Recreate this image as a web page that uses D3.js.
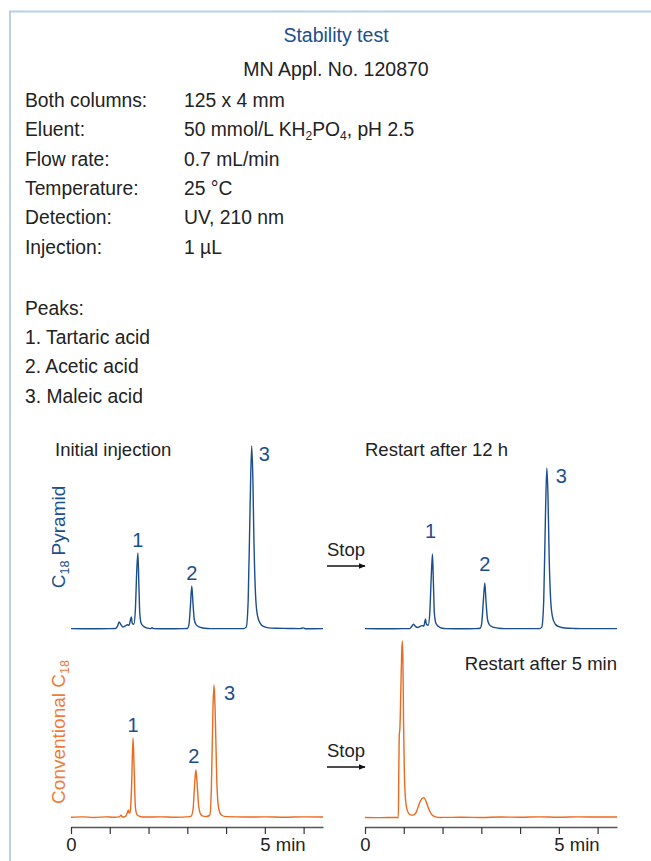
<!DOCTYPE html>
<html lang="en">
<head>
<meta charset="UTF-8">
<title>Stability test</title>
<script src="https://d3js.org/d3.v7.min.js"></script>
<style>
  body { margin: 0; background: #fff; }
  text { font-family: "Liberation Sans", Arial, Helvetica, sans-serif; }
</style>
</head>
<body>
<script>
// ---- data ----
var conditionLabels = ["Both columns:", "Eluent:", "Flow rate:", "Temperature:", "Detection:", "Injection:"];
var conditionValues = ["125 x 4 mm", "50 mmol/L KH_2PO_4, pH 2.5", "0.7 mL/min", "25 °C", "UV, 210 nm", "1 µL"];
var peakNames = ["1. Tartaric acid", "2. Acetic acid", "3. Maleic acid"];

// chromatograms: [time (min), signal]
var pyrInit = [[0,0.2],[0.5,0.1],[1.0,0.2],[1.15,0.3],[1.2,1.5],[1.24,3.7],[1.29,2.2],[1.34,1.0],[1.4,1.6],[1.45,2.2],
  [1.5,2.0],[1.53,4.5],[1.555,6.3],[1.58,3.0],[1.62,2.5],[1.66,10],[1.695,30],[1.725,40],[1.75,24],[1.775,8],[1.81,3],
  [1.87,1.5],[1.95,0.6],[2.05,0.2],[2.09,0.7],[2.13,0.2],[2.5,0.1],[2.85,0.2],[3.0,0.3],[3.04,2],[3.08,12],[3.115,22.6],
  [3.145,14],[3.18,5],[3.23,2.2],[3.32,1],[3.45,0.4],[3.6,0.2],[4.0,0.2],[4.45,0.2],[4.52,1],[4.57,15],[4.62,65],
  [4.66,96.3],[4.69,80],[4.72,45],[4.76,18],[4.81,7],[4.88,3],[4.98,1.2],[5.1,0.6],[5.3,0.4],[5.6,0.3],[5.9,0.2],
  [6.0,0.6],[6.05,0.1],[6.5,0.2]];
var pyrRestart = [[0,0.2],[0.5,0.1],[1.0,0.2],[1.15,0.2],[1.2,1.2],[1.25,2.5],[1.3,1.4],[1.36,0.8],[1.42,1.4],[1.47,1.8],
  [1.52,1.6],[1.54,3.5],[1.56,5.3],[1.585,2.5],[1.63,2.0],[1.67,8],[1.71,28],[1.74,39.5],[1.765,24],[1.79,8],[1.83,3],
  [1.89,1.4],[1.97,0.5],[2.1,0.2],[2.5,0.1],[2.85,0.2],[2.97,0.4],[3.01,3],[3.05,14],[3.09,24.2],[3.12,15],[3.16,5],
  [3.21,2.2],[3.3,1],[3.45,0.4],[3.6,0.2],[4.0,0.2],[4.5,0.2],[4.56,1],[4.61,15],[4.655,60],[4.69,84.7],[4.72,70],
  [4.75,38],[4.79,15],[4.84,6],[4.91,2.5],[5.0,1.2],[5.15,0.5],[5.4,0.3],[5.8,0.2],[6.5,0.2]];
var convInit = [[0,0.4],[0.3,0.6],[0.6,0.3],[0.9,0.6],[1.1,0.4],[1.25,0.6],[1.29,1.5],[1.33,0.5],[1.4,0.8],[1.45,2.5],
  [1.48,4.2],[1.5,2.5],[1.53,3.5],[1.56,15],[1.6,42.1],[1.63,25],[1.66,6],[1.7,1.8],[1.78,0.8],[1.9,0.5],[2.3,0.6],
  [2.7,0.4],[3.0,0.6],[3.1,1],[3.15,5],[3.19,18],[3.22,25.3],[3.25,19],[3.29,7],[3.34,2.2],[3.4,1],[3.5,0.8],
  [3.58,1.5],[3.62,15],[3.665,60],[3.69,70],[3.72,55],[3.76,20],[3.81,5],[3.88,1.6],[4.0,0.7],[4.5,0.5],[5.0,0.6],
  [5.5,0.4],[6.0,0.6],[6.5,0.5]];
var convRestart = [[0,0.3],[0.4,0.2],[0.8,0.3],[0.86,0.3],[0.872,25],[0.885,44],[0.9,47],[0.925,68],[0.948,88],
  [0.965,93.2],[0.98,80],[0.995,50],[1.015,24],[1.045,10],[1.09,4],[1.16,1.8],[1.24,1.5],[1.32,3],[1.4,7.5],[1.47,10.3],
  [1.52,10.7],[1.58,8.5],[1.65,4.5],[1.73,1.6],[1.82,0.6],[1.95,0.3],[2.5,0.4],[3.0,0.3],[3.5,0.5],[4.0,0.4],
  [4.5,0.6],[5.0,0.4],[5.5,0.6],[6.0,0.5],[6.5,0.5]];

// retention times of labelled peaks
var pyrInitPeaks = [1.725, 3.115, 4.66];
var pyrRestartPeaks = [1.74, 3.09, 4.69];
var convInitPeaks = [1.6, 3.22, 3.69];

var xTicks = [0, 1, 2, 3, 4, 5, 6];

// ---- styles ----
var blue = "#1b4e8e", orange = "#ea6a1f", orangeText = "#f07a36", ink = "#222";

var svg = d3.select("body").append("svg")
  .attr("width", 651).attr("height", 861);

// frame
svg.append("path")
  .attr("d", "M10,861 V11.5 H651")
  .attr("fill", "none").attr("stroke", "#bccfe8").attr("stroke-width", 2);

svg.append("text").attr("x", 336).attr("y", 42).attr("text-anchor", "middle")
  .attr("font-size", 19.5).attr("fill", blue).text("Stability test");
svg.append("text").attr("x", 336).attr("y", 76).attr("text-anchor", "middle")
  .attr("font-size", 19.5).attr("fill", ink).text("MN Appl. No. 120870");

// conditions
var rowY = d3.scaleLinear().domain([0, 1]).range([107, 136.3]);
svg.selectAll(".clabel").data(conditionLabels).enter().append("text")
  .attr("class", "clabel").attr("x", 25).attr("y", (d, i) => rowY(i))
  .attr("font-size", 19.3).attr("fill", ink).text(d => d);

svg.selectAll(".cvalue").data(conditionValues).enter().append("text")
  .attr("class", "cvalue").attr("x", 184).attr("y", (d, i) => rowY(i))
  .attr("font-size", 19.3).attr("fill", ink)
  .each(function(d) {
    var t = d3.select(this), shift = 0;
    // "_n" marks a subscript digit
    d.split(/(_\d)/).forEach(function(part) {
      if (!part) return;
      if (part[0] === "_") {
        t.append("tspan").attr("font-size", 12).attr("dy", 4 - shift).text(part[1]);
        shift = 4;
      } else {
        t.append("tspan").attr("dy", -shift).text(part);
        shift = 0;
      }
    });
  });

svg.append("text").attr("x", 25).attr("y", 315).attr("font-size", 19.3).attr("fill", ink).text("Peaks:");
svg.selectAll(".pname").data(peakNames).enter().append("text")
  .attr("class", "pname").attr("x", 25).attr("y", (d, i) => 344 + i * 29.3)
  .attr("font-size", 19.3).attr("fill", ink).text(d => d);

// ---- chromatogram panels ----
var panels = [
  { trace: pyrInit, peaks: pyrInitPeaks, left: 71, base: 629, color: blue,
    offs: [[0, -6], [0, -6], [12, 15]] },
  { trace: pyrRestart, peaks: pyrRestartPeaks, left: 365, base: 629, color: blue,
    offs: [[-2, -16], [0, -12], [14, 15]] },
  { trace: convInit, peaks: convInitPeaks, left: 71, base: 818, color: orange, axis: true,
    offs: [[0, -6], [-2, -7], [15, 15]] },
  { trace: convRestart, peaks: [], left: 365, base: 818, color: orange, axis: true, offs: [] }
];

panels.forEach(function(p) {
  var x = d3.scaleLinear().domain([0, 6.5]).range([p.left, p.left + 252]);
  var y = d3.scaleLinear().domain([0, 100]).range([p.base, p.base - 190]);
  var line = d3.line().x(d => x(d[0])).y(d => y(d[1])).curve(d3.curveMonotoneX);

  svg.append("path").datum(p.trace)
    .attr("d", line).attr("fill", "none")
    .attr("stroke", p.color).attr("stroke-width", 1.4).attr("stroke-linejoin", "round");

  p.peaks.forEach(function(t, i) {
    var apex = d3.max(p.trace.filter(d => Math.abs(d[0] - t) < 0.02), d => d[1]);
    svg.append("text")
      .attr("x", x(t) + p.offs[i][0]).attr("y", y(apex) + p.offs[i][1])
      .attr("text-anchor", i === 2 ? "start" : "middle")
      .attr("dx", i === 2 ? -5 : 0)
      .attr("font-size", 20).attr("fill", blue).text(i + 1);
  });

  if (p.axis) {
    var ax = svg.append("g").attr("transform", "translate(0," + (p.base + 9) + ")")
      .call(d3.axisBottom(x).tickValues(xTicks).tickSize(7).tickSizeOuter(0).tickPadding(4)
        .tickFormat(d => d === 0 ? "0" : d === 5 ? "5 min" : ""));
    ax.select(".domain").attr("stroke", "#555").attr("stroke-width", 1.3);
    ax.selectAll(".tick line").attr("stroke", "#333").attr("stroke-width", 1.2);
    ax.selectAll(".tick text").attr("font-size", 18.5).attr("fill", ink)
      .attr("font-family", "'Liberation Sans', Arial, sans-serif");
    ax.selectAll(".tick text").filter(d => d === 5).attr("text-anchor", "start").attr("x", -5);
  }
});

// panel captions
svg.append("text").attr("x", 55).attr("y", 456).attr("font-size", 18.5).attr("fill", ink).text("Initial injection");
svg.append("text").attr("x", 365).attr("y", 456).attr("font-size", 18.5).attr("fill", ink).text("Restart after 12 h");
svg.append("text").attr("x", 617).attr("y", 670).attr("text-anchor", "end")
  .attr("font-size", 18.5).attr("fill", ink).text("Restart after 5 min");

// rotated column names
function columnName(cx, cy, color, pre, post) {
  var t = svg.append("text").attr("transform", "translate(" + cx + "," + cy + ") rotate(-90)")
    .attr("text-anchor", "middle").attr("font-size", 19).attr("fill", color);
  t.append("tspan").text(pre + "C");
  t.append("tspan").attr("font-size", 12.5).attr("dy", 4).text("18");
  if (post) t.append("tspan").attr("dy", -4).text(post);
}
columnName(65, 537, blue, "", " Pyramid");
columnName(65, 732, orangeText, "Conventional ", "");

// stop arrows
svg.append("defs").append("marker").attr("id", "arr")
  .attr("viewBox", "0 0 10 10").attr("refX", 9).attr("refY", 5)
  .attr("markerWidth", 7).attr("markerHeight", 7).attr("orient", "auto")
  .attr("markerUnits", "userSpaceOnUse")
  .append("path").attr("d", "M0,1 L10,5 L0,9 Z").attr("fill", "#111");

[556, 757].forEach(function(yb) {
  svg.append("text").attr("x", 327).attr("y", yb).attr("font-size", 18.5).attr("fill", ink).text("Stop");
  svg.append("line").attr("x1", 327).attr("x2", 365).attr("y1", yb + 10).attr("y2", yb + 10)
    .attr("stroke", "#111").attr("stroke-width", 1.3).attr("marker-end", "url(#arr)");
});
</script>
</body>
</html>
